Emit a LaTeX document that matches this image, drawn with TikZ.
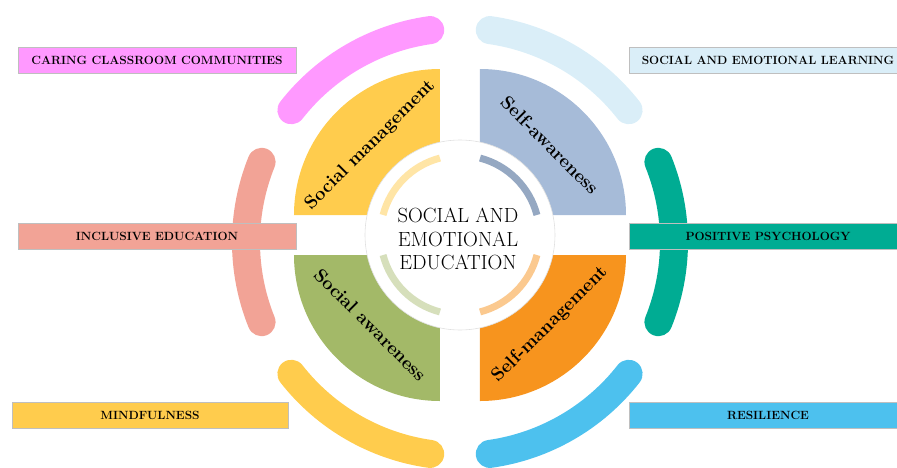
\documentclass[tikz,border=0pt]{standalone}
\usepackage{xcolor}
\definecolor{sepink}{RGB}{255,153,255}
\definecolor{seice}{RGB}{218,238,248}
\definecolor{sesalmon}{RGB}{242,163,150}
\definecolor{seteal}{RGB}{0,172,147}
\definecolor{seyellow}{RGB}{255,204,77}
\definecolor{sesky}{RGB}{77,193,238}
\definecolor{sesteel}{RGB}{166,187,216}
\definecolor{seolive}{RGB}{163,185,104}
\definecolor{seorange}{RGB}{247,148,30}
\usetikzlibrary{positioning}

\begin{document}
\begin{tikzpicture}[x=1pt, y=1pt,
    ring/.style={line width=28, line cap=round},
    halo/.style={line width=7},
    tag/.style={rectangle, minimum width=278, minimum height=26, inner sep=0pt,
                draw=black!25, line width=0.6,
                font=\fontsize{11.9}{13}\selectfont\bfseries},
    quarter/.style={font=\fontsize{18.5}{20}\selectfont\bfseries}
  ]
    \useasboundingbox (-460,-232) rectangle (437,235);

    % Outer ring of themes
    \draw[ring, sepink]   (0,-7) ++(98:214)  arc[start angle=98,  end angle=142, radius=214];
    \draw[ring, seice]    (0,-7) ++(38:214)  arc[start angle=38,  end angle=82,  radius=214];
    \draw[ring, sesalmon] (0,-7) ++(158:214) arc[start angle=158, end angle=202, radius=214];
    \draw[ring, seteal]   (0,-7) ++(-22:214) arc[start angle=-22, end angle=22,  radius=214];
    \draw[ring, seyellow] (0,-7) ++(218:214) arc[start angle=218, end angle=262, radius=214];
    \draw[ring, sesky]    (0,-7) ++(278:214) arc[start angle=278, end angle=322, radius=214];

    % Four competence quarters
    \fill[seyellow] (-20,20) -- ++(-146,0) arc[start angle=180, end angle=90,  radius=146] -- cycle;
    \fill[sesteel]  (20,20)  -- ++(146,0)  arc[start angle=0,   end angle=90,  radius=146] -- cycle;
    \fill[seolive]  (-20,-20) -- ++(-146,0) arc[start angle=180, end angle=270, radius=146] -- cycle;
    \fill[seorange] (20,-20) -- ++(146,0)  arc[start angle=0,   end angle=-90, radius=146] -- cycle;

    % Hub
    \filldraw[fill=white, draw=black!12, line width=0.6] (0,0) circle[radius=95];
    \draw[halo, seyellow!50]  (104.6:79.5) arc[start angle=104.6, end angle=165.4, radius=79.5];
    \draw[halo, sesteel!90!black] (14.6:79.5) arc[start angle=14.6, end angle=75.4, radius=79.5];
    \draw[halo, seolive!45]   (194.6:79.5) arc[start angle=194.6, end angle=255.4, radius=79.5];
    \draw[halo, seorange!50]  (284.6:79.5) arc[start angle=284.6, end angle=345.4, radius=79.5];
    \node[font=\fontsize{20.5}{23.5}\selectfont, align=center] (hub) at (-2,-4)
      {SOCIAL AND\\EMOTIONAL\\EDUCATION};

    % Quarter labels
    \node[quarter, rotate=45]  (socman)  at (135:127) {Social management};
    \node[quarter, rotate=-45] (selfaw)  at (45:127)  {Self-awareness};
    \node[quarter, rotate=-45] (socaw)   at (225:127) {Social awareness};
    \node[quarter, rotate=45]  (selfman) at (315:127) {Self-management};

    % Theme tags
    \node[tag, fill=sepink]   (caring)  at (-303,175)  {CARING CLASSROOM COMMUNITIES};
    \node[tag, fill=seice]    (sel)     at (308,175)   {SOCIAL AND EMOTIONAL LEARNING};
    \node[tag, fill=sesalmon] (incl)    at (-303,-1)   {INCLUSIVE EDUCATION};
    \node[tag, fill=seteal]   (pospsy)  at (308,-1)    {POSITIVE PSYCHOLOGY};
    \node[tag, fill=seyellow, minimum width=276] (mindful) at (-310,-180.5) {MINDFULNESS};
    \node[tag, fill=sesky]    (resil)   at (308,-180.5) {RESILIENCE};
  \end{tikzpicture}
\end{document}
